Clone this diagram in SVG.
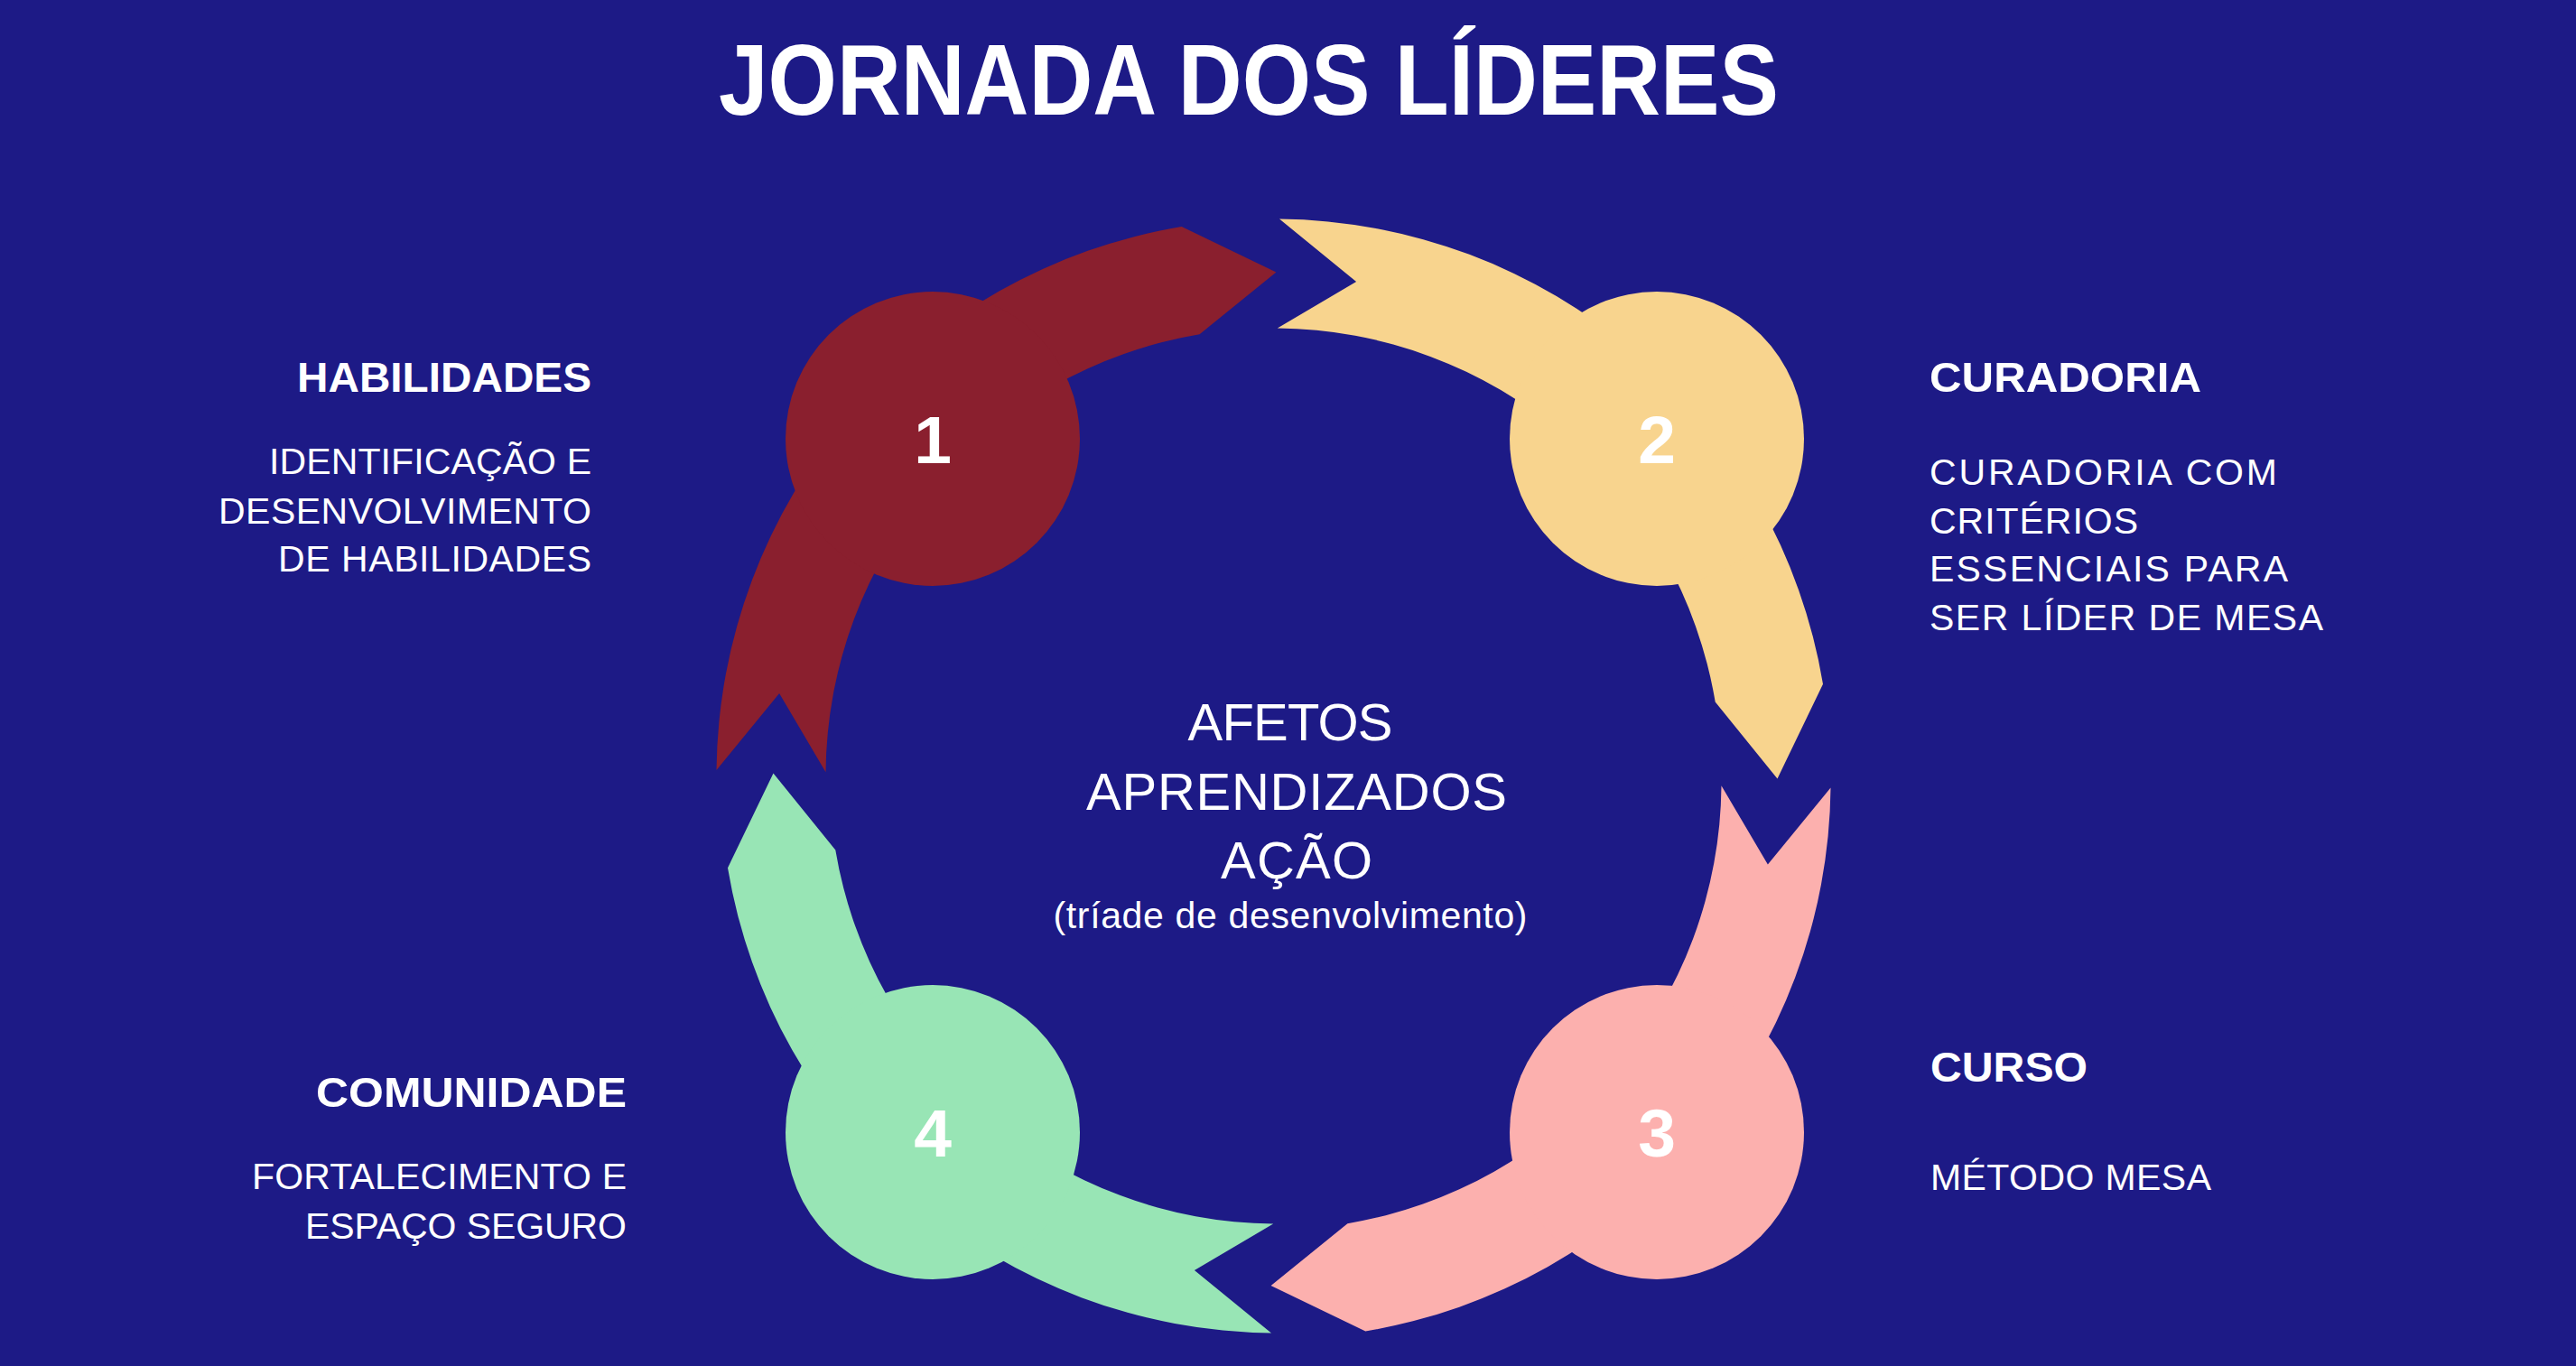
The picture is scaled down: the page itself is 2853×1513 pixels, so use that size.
<svg xmlns="http://www.w3.org/2000/svg" width="2853" height="1513" viewBox="0 0 2853 1513">
<defs>
<style>
.bg{fill:#1D1A86}
.num{font-family:"Liberation Sans",Arial,sans-serif;font-weight:bold;font-size:75px;fill:#fff;text-anchor:middle}
.hd{font-family:"Liberation Sans",Arial,sans-serif;font-weight:bold;font-size:47px;fill:#fff}
.bd{font-family:"Liberation Sans",Arial,sans-serif;font-size:41px;fill:#fff}
.ct{font-family:"Liberation Sans",Arial,sans-serif;font-size:58px;fill:#fff;text-anchor:middle}
.sub{font-family:"Liberation Sans",Arial,sans-serif;font-size:41px;fill:#fff;text-anchor:middle}
.end{text-anchor:end}
.title{font-family:"Liberation Sans Narrow","Liberation Sans",Arial,sans-serif;font-weight:bold;font-size:112px;fill:#fff}
</style>
<path id="band" d="M793.5,853 A617,617 0 0 1 1308.7,251 L1413.4,301.5 L1328.6,370.3 A496,496 0 0 0 914.5,855.2 L863.1,767.9 Z"/>
</defs>
<rect class="bg" x="0" y="0" width="2853" height="1513"/>
<text class="title" x="796" y="127" textLength="1174" lengthAdjust="spacingAndGlyphs">JORNADA DOS LÍDERES</text>

<g id="connectors"></g>

<g id="node1" fill="#8A1F2E">
<use href="#band"/>
<circle cx="1033" cy="486" r="163"/>
<text class="num" x="1033" y="513">1</text>
</g>
<g id="node2" fill="#F8D48E">
<use href="#band" transform="rotate(90 1410.5 859.5)"/>
<circle cx="1835" cy="486" r="163"/>
<text class="num" x="1835" y="513">2</text>
</g>
<g id="node3" fill="#FCB0AE">
<use href="#band" transform="translate(0 6.5) rotate(180 1410.5 859.5)"/>
<circle cx="1835" cy="1254" r="163"/>
<text class="num" x="1835" y="1281">3</text>
</g>
<g id="node4" fill="#98E5B5">
<use href="#band" transform="translate(4 0) rotate(270 1410.5 859.5)"/>
<circle cx="1033" cy="1254" r="163"/>
<text class="num" x="1033" y="1281">4</text>
</g>

<g id="label-habilidades">
<text class="hd end" x="655" y="434" textLength="326" lengthAdjust="spacingAndGlyphs">HABILIDADES</text>
<text class="bd end" x="655" y="525" textLength="357" lengthAdjust="spacing">IDENTIFICAÇÃO E</text>
<text class="bd end" x="655" y="580" textLength="413" lengthAdjust="spacing">DESENVOLVIMENTO</text>
<text class="bd end" x="655" y="633" textLength="347" lengthAdjust="spacing">DE HABILIDADES</text>
</g>
<g id="label-curadoria">
<text class="hd" x="2137" y="434" textLength="301" lengthAdjust="spacingAndGlyphs">CURADORIA</text>
<text class="bd" x="2137" y="537" textLength="385" lengthAdjust="spacing">CURADORIA COM</text>
<text class="bd" x="2137" y="591" textLength="231" lengthAdjust="spacing">CRITÉRIOS</text>
<text class="bd" x="2137" y="644" textLength="397" lengthAdjust="spacing">ESSENCIAIS PARA</text>
<text class="bd" x="2137" y="698" textLength="436" lengthAdjust="spacing">SER LÍDER DE MESA</text>
</g>
<g id="label-curso">
<text class="hd" x="2138" y="1198" textLength="174" lengthAdjust="spacingAndGlyphs">CURSO</text>
<text class="bd" x="2138" y="1318" textLength="311" lengthAdjust="spacing">MÉTODO MESA</text>
</g>
<g id="label-comunidade">
<text class="hd end" x="694" y="1226" textLength="344" lengthAdjust="spacingAndGlyphs">COMUNIDADE</text>
<text class="bd end" x="694" y="1317" textLength="415" lengthAdjust="spacing">FORTALECIMENTO E</text>
<text class="bd end" x="694" y="1372" textLength="356" lengthAdjust="spacing">ESPAÇO SEGURO</text>
</g>
<g id="center-text">
<text class="ct" x="1429" y="820" textLength="227" lengthAdjust="spacing">AFETOS</text>
<text class="ct" x="1436" y="897" textLength="466" lengthAdjust="spacing">APRENDIZADOS</text>
<text class="ct" x="1436" y="973" textLength="168" lengthAdjust="spacing">AÇÃO</text>
<text class="sub" x="1429" y="1028" textLength="525" lengthAdjust="spacing">(tríade de desenvolvimento)</text>
</g>
</svg>
